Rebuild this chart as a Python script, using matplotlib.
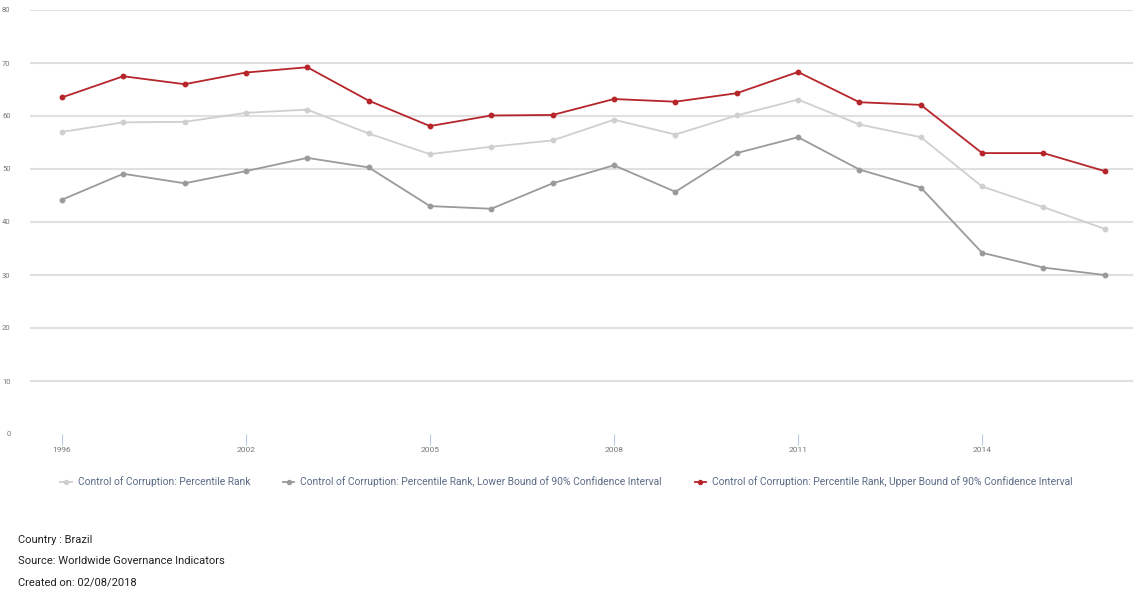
import numpy as np
import matplotlib.pyplot as plt

years = [1996, 1998, 2000, 2002, 2003, 2004, 2005, 2006, 2007, 2008,
         2009, 2010, 2011, 2012, 2013, 2014, 2015, 2016]
rank = [57.0, 58.8, 58.9, 60.6, 61.2, 56.7, 52.8, 54.2, 55.4, 59.3,
        56.5, 60.1, 63.1, 58.4, 56.0, 46.7, 42.8, 38.7]
lower = [44.2, 49.1, 47.3, 49.6, 52.1, 50.3, 43.0, 42.5, 47.3, 50.7,
         45.7, 53.0, 56.0, 49.9, 46.5, 34.2, 31.4, 30.0]
upper = [63.5, 67.5, 66.0, 68.2, 69.2, 62.9, 58.1, 60.1, 60.2, 63.2,
         62.7, 64.3, 68.3, 62.6, 62.1, 53.0, 53.0, 49.6]
tick_years = [1996, 2002, 2005, 2008, 2011, 2014]

labels = ["Control of Corruption: Percentile Rank",
          "Control of Corruption: Percentile Rank, Lower Bound of 90% Confidence Interval",
          "Control of Corruption: Percentile Rank, Upper Bound of 90% Confidence Interval"]
colors = ["#cfcfcf", "#9a9a9a", "#b5252a"]

plt.rcParams['font.family'] = ['Roboto', 'DejaVu Sans']

fig = plt.figure(figsize=(11.33, 5.94), dpi=100)
ax = fig.add_axes([30/1133, 1-434/594, 1-30/1133, 424/594])

x = np.arange(len(years))
for vals, lab, col in zip([rank, lower, upper], labels, colors):
    ax.plot(x, vals, color=col, lw=1.3, marker='o', ms=3.2, label=lab)

ax.set_ylim(0, 80)
ax.set_xlim(-0.52, 17.46)
ax.set_yticks(range(0, 81, 10))
ax.yaxis.grid(True, color='#e0e0e0', lw=1.5)
ax.set_axisbelow(True)
for s in ax.spines.values():
    s.set_visible(False)
ax.tick_params(axis='y', length=0, pad=14, labelsize=5.5, labelcolor='#777777')

ticks = [years.index(t) for t in tick_years]
ax.set_xticks(ticks)
ax.set_xticklabels([str(t) for t in tick_years])
ax.tick_params(axis='x', length=8, width=0.8, color='#b8cde6', pad=1,
               labelsize=6, labelcolor='#777777')

# hide 0 gridline
ax.get_ygridlines()[0].set_visible(False)

leg = fig.legend(loc='center', bbox_to_anchor=(0.5, 1-482/594), ncol=3,
                 frameon=False, fontsize=7.35, columnspacing=3.2, handlelength=1.1,
                 handletextpad=0.6, markerscale=0.9)
for t in leg.get_texts():
    t.set_color('#5b6b86')

footer = ["Country : Brazil", "Source: Worldwide Governance Indicators",
          "Created on: 02/08/2018"]
for i, line in enumerate(footer):
    fig.text(18/1133, 1-(540 + 21.5*i)/594, line, fontsize=8, color='#222222',
             va='center', ha='left')

fig.savefig("out.png", dpi=100)
